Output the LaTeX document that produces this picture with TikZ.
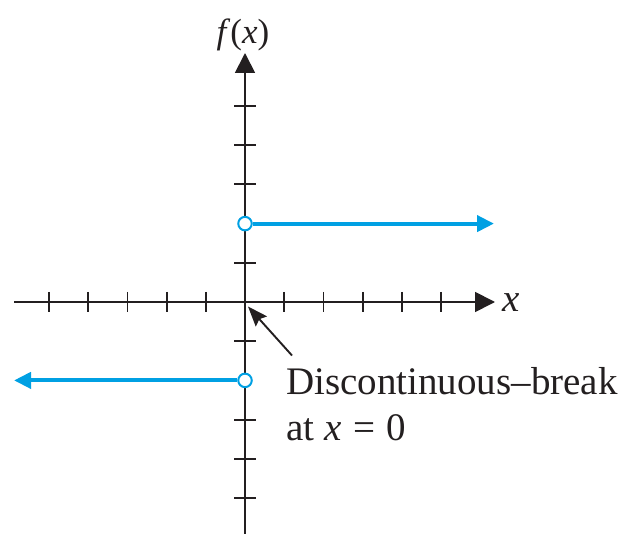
\documentclass[tikz,border=0pt]{standalone}
\usepackage{fontspec}
\setmainfont{Liberation Serif}
\newfontfamily\timesfont{Liberation Serif}
\usetikzlibrary{arrows.meta}
\definecolor{fblue}{RGB}{0,160,227}
\definecolor{ink}{RGB}{35,31,32}
\begin{document}
\begin{tikzpicture}[x=1pt,y=-1pt,
  axis/.style={draw=ink, line width=1.8pt},
  axtip/.style={-{Triangle[length=20pt,width=20pt]}},
  tickmark/.style={draw=ink, line width=1.8pt},
  fline/.style={draw=fblue, line width=4pt},
  ftip/.style={-{Triangle[length=17pt,width=16pt]}},
  hole/.style={circle, draw=fblue, line width=2pt, fill=white, minimum size=13.5pt, inner sep=0pt},
  lbl/.style={font=\timesfont\fontsize{39}{45}\selectfont, text=ink, inner sep=0pt},
  pointer/.style={draw=ink, line width=1.9pt, -{Stealth[length=20pt,width=15pt,inset=3pt]}}]
\useasboundingbox (0,0) rectangle (621,534);
% axes
\coordinate (xl) at (14,302);
\coordinate (xr) at (495,302);
\coordinate (yb) at (245,534);
\coordinate (yt) at (245,53);
\draw[axis,axtip] (xl) -- (xr);
\draw[axis,axtip] (yb) -- (yt);
% ticks
\foreach \i in {-5,-4,-3,-2,-1,1,2,3,4,5}
  \draw[tickmark] (245+39.2*\i,292) -- ++(0,20);
\foreach \k in {-5,-4,-3,-1,1,3,4,5}
  \draw[tickmark] (234,302-39.2*\k) -- ++(22,0);
% function pieces
\node[hole] (h1) at (245,223.6) {};
\node[hole] (h2) at (245,380.4) {};
\coordinate (rend) at (494,223.6);
\coordinate (lend) at (14,380.4);
\draw[fline,ftip] (h1) -- (rend);
\draw[fline,ftip] (h2) -- (lend);
% labels
\node[lbl, font=\timesfont\fontsize{35}{40}\selectfont, anchor=base] (fx) at (243,44) {\textit{f}(\textit{x})};
\node[lbl, anchor=base west] (xlab) at (502,312) {\textit{x}};
\node[lbl, anchor=base west] (note1) at (286,395) {Discontinuous–break};
\node[lbl, anchor=base west] (note2) at (286,440) {at \textit{x}\hspace{0.3em}=\hspace{0.3em}0};
% pointer
\coordinate (ptail) at (292,355.5);
\coordinate (ptip) at (248,306.5);
\draw[pointer] (ptail) -- (ptip);
\end{tikzpicture}
\end{document}
